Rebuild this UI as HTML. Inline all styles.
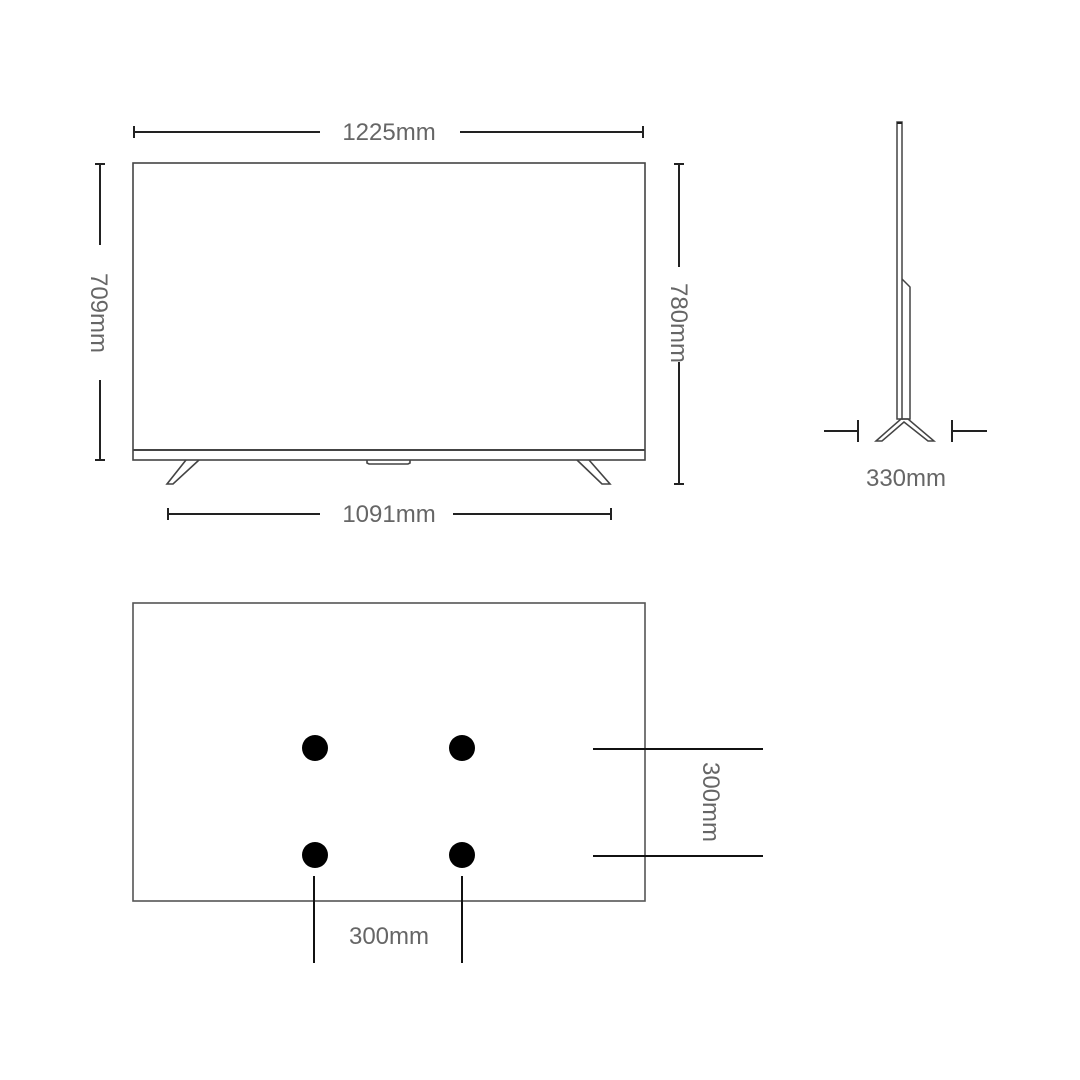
<!DOCTYPE html>
<html><head><style>
html,body{margin:0;padding:0;background:#fff;}
svg{display:block;}
text{font-family:"Liberation Sans",sans-serif;fill:#666;font-size:24px;}
</style></head><body>
<svg width="1080" height="1080" viewBox="0 0 1080 1080" xmlns="http://www.w3.org/2000/svg">
<g stroke="#222" stroke-width="2" fill="none">
<line x1="134" y1="132" x2="320" y2="132"/><line x1="460" y1="132" x2="643" y2="132"/>
<line x1="134" y1="126" x2="134" y2="138"/><line x1="643" y1="126" x2="643" y2="138"/>
<line x1="100" y1="164" x2="100" y2="245"/><line x1="100" y1="380" x2="100" y2="460"/>
<line x1="95" y1="164" x2="105" y2="164"/><line x1="95" y1="460" x2="105" y2="460"/>
<line x1="679" y1="164" x2="679" y2="267"/><line x1="679" y1="362" x2="679" y2="484"/>
<line x1="674" y1="164" x2="684" y2="164"/><line x1="674" y1="484" x2="684" y2="484"/>
<line x1="168" y1="514" x2="320" y2="514"/><line x1="453" y1="514" x2="611" y2="514"/>
<line x1="168" y1="508" x2="168" y2="520"/><line x1="611" y1="508" x2="611" y2="520"/>
</g>
<g stroke="#444" stroke-width="1.6" fill="none">
<rect x="133" y="163" width="512" height="297"/>
<line x1="133" y1="450" x2="645" y2="450" stroke-width="2"/>
<path d="M367 460 L367 463 L369 464 L408 464 L410 463 L410 460"/>
<path d="M186 460 L167 484 L173 484 L199 460"/>
<path d="M577 460 L602 484 L610 484 L589 460"/>
</g>
<text x="389" y="140" text-anchor="middle">1225mm</text>
<text x="389" y="522" text-anchor="middle">1091mm</text>
<text transform="translate(91,313) rotate(90)" text-anchor="middle">709mm</text>
<text transform="translate(671,323) rotate(90)" text-anchor="middle">780mm</text>
<g stroke="#444" stroke-width="1.5" fill="none">
<rect x="897" y="122" width="5" height="297"/>
<path d="M902 279 L910 287 L910 419 L902 419"/>
<path d="M876 441 L901 419 L908 419 L934 441 L928 441 L904 422 L882 441 Z"/>
</g>
<rect x="897" y="122" width="5" height="2" fill="#222"/>
<g stroke="#222" stroke-width="2">
<line x1="824" y1="431" x2="858" y2="431"/><line x1="858" y1="420" x2="858" y2="442"/>
<line x1="952" y1="431" x2="987" y2="431"/><line x1="952" y1="420" x2="952" y2="442"/>
</g>
<text x="906" y="486" text-anchor="middle">330mm</text>
<rect x="133" y="603" width="512" height="298" fill="none" stroke="#555" stroke-width="1.6"/>
<g fill="#000">
<circle cx="315" cy="748" r="13"/><circle cx="462" cy="748" r="13"/>
<circle cx="315" cy="855" r="13"/><circle cx="462" cy="855" r="13"/>
</g>
<g stroke="#111" stroke-width="2">
<line x1="314" y1="876" x2="314" y2="963"/><line x1="462" y1="876" x2="462" y2="963"/>
<line x1="593" y1="749" x2="763" y2="749"/><line x1="593" y1="856" x2="763" y2="856"/>
</g>
<text x="389" y="944" text-anchor="middle">300mm</text>
<text transform="translate(703,802) rotate(90)" text-anchor="middle">300mm</text>
</svg>
</body></html>
